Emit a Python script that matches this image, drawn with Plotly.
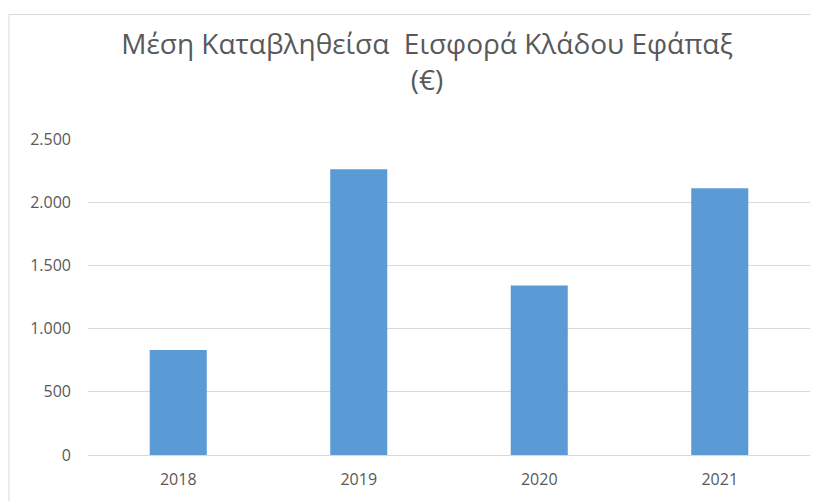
import plotly.graph_objects as go

years = ["2018", "2019", "2020", "2021"]
values = [830, 2260, 1340, 2110]
y_ticks = [0, 500, 1000, 1500, 2000, 2500]

title_text = "Μέση Καταβληθείσα  Εισφορά Κλάδου Εφάπαξ<br>(€)"

# page body has an 8px margin, so the figure is drawn at (8, 8)
OFF = 8
W, H = 818 - OFF, 501 - OFF
ml, mr, mt, mb = 88 - OFF, 8, 139 - OFF, 46
pw, ph = W - ml - mr, H - mt - mb

fig = go.Figure(go.Bar(x=years, y=values, marker=dict(color="#5b9bd5", line=dict(width=0))))

def px2paper_x(px):
    return (px - OFF - ml) / pw

def py2paper_y(py):
    return (H - mb - (py - OFF)) / ph

fig.update_layout(
    width=W, height=H,
    margin=dict(l=ml, r=mr, t=mt, b=mb),
    paper_bgcolor="white", plot_bgcolor="white",
    separators=",.",
    bargap=0.684,
    font=dict(family="Open Sans", color="#595959", size=16),
    title=dict(text=title_text, x=(427 - OFF) / W, xanchor="center", xref="container",
               y=1 - 46 / H, yanchor="top", yref="container",
               font=dict(size=28, color="#595959", family="Open Sans")),
    xaxis=dict(showgrid=False, showline=True, linecolor="#d9d9d9", ticks="",
               tickfont=dict(size=16, color="#595959"), ticklabelstandoff=10),
    yaxis=dict(range=[0, 2500], tickvals=y_ticks, tickformat=",d", showgrid=True,
               gridcolor="#d9d9d9", zeroline=False, showline=False, ticks="",
               tickfont=dict(size=16, color="#595959"), ticklabelstandoff=16),
    showlegend=False,
)
fig.add_shape(type="rect", xref="paper", yref="paper",
              x0=px2paper_x(9), x1=px2paper_x(840), y0=py2paper_y(520), y1=py2paper_y(14.5),
              line=dict(color="#d9d9d9", width=1), fillcolor="rgba(0,0,0,0)", layer="below")

fig.write_html("out.html")
